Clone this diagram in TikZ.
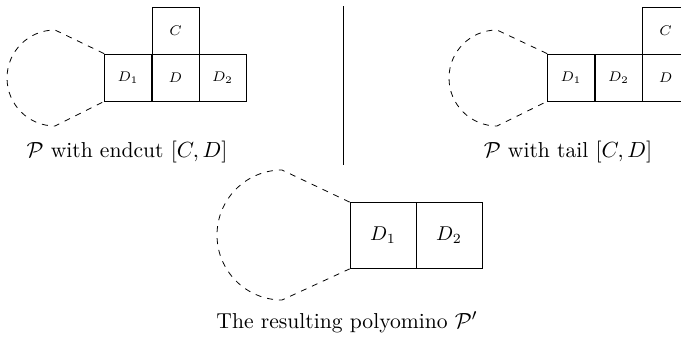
\documentclass[tikz,border=0pt]{standalone}
\begin{document}
\begin{tikzpicture}[x=0.5pt,y=-0.5pt,
  cell/.style={draw, minimum size=23.5pt, inner sep=0pt, font=\scriptsize},
  bigcell/.style={draw, minimum size=33pt, inner sep=0pt},
  loopline/.style={dashed},
  caption/.style={inner sep=0pt, font=\fontsize{10.8}{13}\selectfont}]
\clip (0,0) rectangle (681,344);
% left diagram
\node[cell] (d1l) at (128,77.5) {$D_1$};
\node[cell] (dl) at (175.5,77.5) {$D$};
\node[cell] (d2l) at (222.5,77.5) {$D_2$};
\node[cell] (cl) at (175.5,30.5) {$C$};
\draw[loopline] (d1l.north west) -- (55,30) arc[start angle=270,end angle=90,radius=48] -- (d1l.south west);
\node[caption] (capl) at (127,152) {$\mathcal{P}$ with endcut $[C,D]$};
% separator
\coordinate (septop) at (343,6);
\coordinate (sepbot) at (343,165);
\draw (septop) -- (sepbot);
% right diagram
\node[cell] (d1r) at (571,77.5) {$D_1$};
\node[cell] (d2r) at (618.5,77.5) {$D_2$};
\node[cell] (dr) at (665.5,77.5) {$D$};
\node[cell] (cr) at (665.5,30.5) {$C$};
\draw[loopline] (d1r.north west) -- (497,30) arc[start angle=270,end angle=90,radius=48] -- (d1r.south west);
\node[caption] (capr) at (568,152) {$\mathcal{P}$ with tail $[C,D]$};
% bottom diagram
\node[bigcell] (d1b) at (383,235.5) {$D_1$};
\node[bigcell] (d2b) at (449,235.5) {$D_2$};
\draw[loopline] (d1b.north west) -- (282,170) arc[start angle=270,end angle=90,radius=65] -- (d1b.south west);
\node[caption] (capb) at (347,322) {The resulting polyomino $\mathcal{P}'$};
\end{tikzpicture}
\end{document}
